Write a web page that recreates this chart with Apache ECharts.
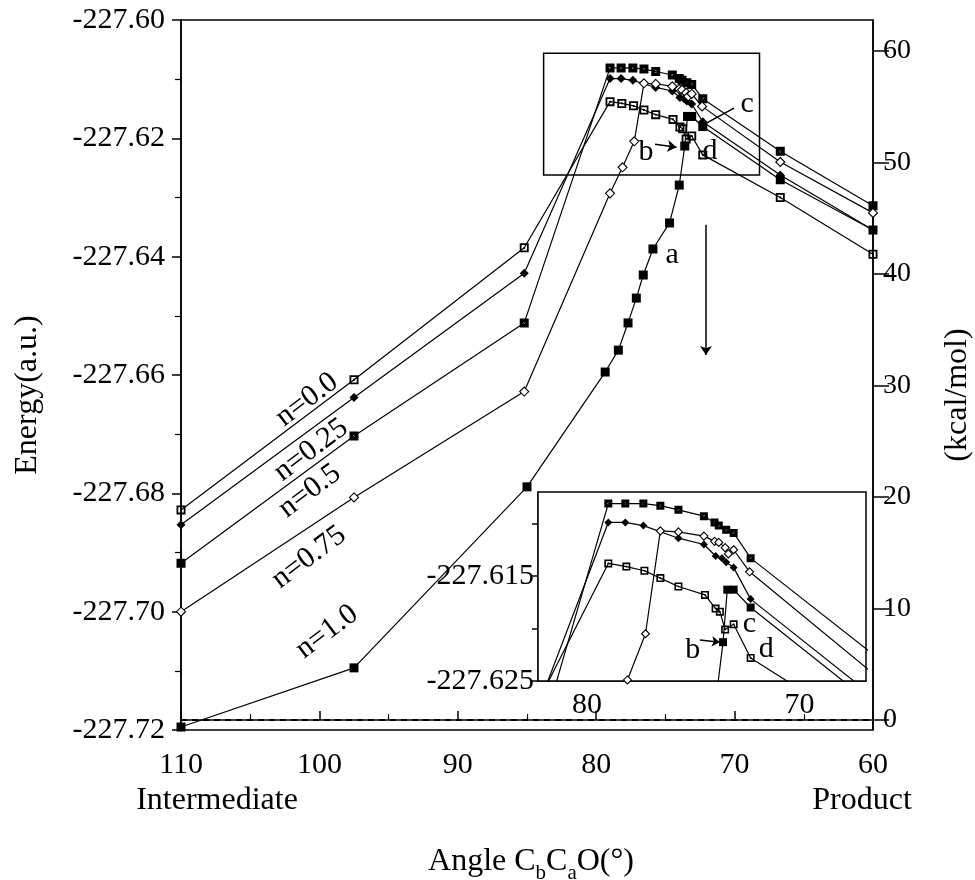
<!DOCTYPE html>
<html>
<head>
<meta charset="utf-8">
<script src="https://cdn.jsdelivr.net/npm/echarts@6/dist/echarts.min.js"></script>
<style>
  html, body { margin: 0; background: #fff; }
  #chart { width: 975px; height: 880px; }
</style>
</head>
<body>
<div id="chart"></div>
<script>
// [angle, energy(a.u.)]
var n00 = [[110, -227.6828], [97.5, -227.6608], [85.2, -227.6385], [79.0, -227.6138], [78.15, -227.6141],
  [77.3, -227.6145], [76.55, -227.6152], [75.7, -227.6160], [74.45, -227.6168], [73.95, -227.6181],
  [73.75, -227.6184], [73.5, -227.6201], [73.1, -227.6196], [72.3, -227.6228], [66.7, -227.6300], [60, -227.6396]];
var n025 = [[110, -227.6853], [97.5, -227.6638], [85.2, -227.6428], [79.0, -227.6099], [78.2, -227.6099],
  [77.35, -227.6102], [75.7, -227.6114], [74.5, -227.6120], [73.95, -227.6131], [73.65, -227.6133],
  [73.45, -227.6137], [73.1, -227.6142], [72.3, -227.6172], [66.7, -227.6262], [60, -227.6355]];
var n05 = [[110, -227.6918], [97.5, -227.6703], [85.2, -227.6512], [79.0, -227.6081], [78.2, -227.6081],
  [77.35, -227.6081], [76.55, -227.6083], [75.7, -227.6087], [74.5, -227.6093], [74.0, -227.6099],
  [73.8, -227.6102], [73.45, -227.6106], [73.1, -227.6109], [72.3, -227.6133], [66.7, -227.6222], [60, -227.6314]];
var n075 = [[110, -227.7000], [97.5, -227.6807], [85.2, -227.6628], [79.0, -227.6293], [78.1, -227.6249],
  [77.25, -227.6205], [76.55, -227.6107], [75.7, -227.6108], [74.5, -227.6112], [74.0, -227.6117],
  [73.8, -227.6118], [73.5, -227.6123], [73.35, -227.6129], [73.1, -227.6125], [72.35, -227.6146],
  [66.7, -227.6240], [60, -227.6326]];
var n10 = [[110, -227.7195], [97.5, -227.7095], [85.0, -227.6789], [79.35, -227.6595], [78.4, -227.6558],
  [77.7, -227.6512], [77.1, -227.6470], [76.6, -227.6431], [75.9, -227.6387], [74.7, -227.6343],
  [74.0, -227.6279], [73.6, -227.6213], [73.4, -227.6163], [73.1, -227.6163], [72.3, -227.6180],
  [66.7, -227.6270], [60, -227.6355]];

var angleTicks = [110, 100, 90, 80, 70, 60];
var kcalTicks = [0, 10, 20, 30, 40, 50, 60];
var zeroLine = [[110, 0], [60, 0]];
var insetAngleLabels = [80, 70];
var insetAngleTicks = [67, 68, 69, 70, 71, 72, 73, 74, 75, 76, 77, 78, 79, 80, 81, 82];
var insetEnergyLabels = [-227.625, -227.615];
var insetEnergyTicks = [-227.625, -227.620, -227.615, -227.610];

var FONT = 'Liberation Serif';
var symOpenSq = 'path://M0,0H10V10H0ZM2,2V8H8V2ZM4,4H6V6H4Z';
var symDarkSq = 'path://M0,0H10V10H0ZM4,4V6H6V4Z';

var curves = [
  { name: 'n=0.0', data: n00, symbol: symOpenSq, size: 9, fill: '#000', border: 0 },
  { name: 'n=0.25', data: n025, symbol: 'diamond', size: 9, fill: '#000', border: 0 },
  { name: 'n=0.5', data: n05, symbol: symDarkSq, size: 9, fill: '#000', border: 0 },
  { name: 'n=0.75', data: n075, symbol: 'diamond', size: 9, fill: '#fff', border: 1.1 },
  { name: 'n=1.0', data: n10, symbol: 'rect', size: 9, fill: '#000', border: 0 }
];

var txt = { color: '#000', fontFamily: FONT, fontSize: 30 };
var blackLine = { color: '#000', width: 1.5 };

function pt(x, y, text, rot) {
  return { coord: [x, y], name: text, label: { rotate: rot || 0 } };
}
function seg(x1, y1, x2, y2) {
  return [{ coord: [x1, y1] }, { coord: [x2, y2] }];
}

var series = [];
curves.forEach(function (c, i) {
  [0, 1].forEach(function (g) {
    series.push({
      name: c.name,
      type: 'line',
      xAxisIndex: g,
      yAxisIndex: g === 0 ? 0 : 2,
      data: c.data,
      symbol: c.symbol,
      symbolSize: g === 0 ? c.size : c.size - 1,
      symbolKeepAspect: true,
      showAllSymbol: true,
      lineStyle: { color: '#000', width: 1.2 },
      itemStyle: { color: c.fill, borderColor: '#000', borderWidth: c.border },
      z: 3
    });
  });
});

// zero reference line on the kcal/mol axis
series.push({
  type: 'line', xAxisIndex: 0, yAxisIndex: 1, data: zeroLine, symbol: 'none',
  lineStyle: { color: '#000', width: 2, type: [6, 5] }, z: 2
});

// annotations for the main plot
series.push({
  type: 'line', xAxisIndex: 0, yAxisIndex: 0, data: [], silent: true,
  markPoint: {
    symbol: 'circle', symbolSize: 1, itemStyle: { color: 'rgba(0,0,0,0)' },
    label: { show: true, position: 'inside', formatter: '{b}', color: '#000', fontFamily: FONT, fontSize: 30 },
    data: [
      pt(100.9, -227.6642, 'n=0.0', 37), pt(100.6, -227.6727, 'n=0.25', 37),
      pt(100.7, -227.6796, 'n=0.5', 37), pt(100.75, -227.6908, 'n=0.75', 37),
      pt(99.45, -227.7034, 'n=1.0', 37),
      pt(74.52, -227.6397, 'a'), pt(76.4, -227.6223, 'b'), pt(69.1, -227.6142, 'c'), pt(71.78, -227.6221, 'd')
    ]
  },
  markLine: {
    silent: true, symbol: ['none', 'arrow'], symbolSize: 9, label: { show: false },
    lineStyle: { color: '#000', width: 1.5, type: 'solid' },
    data: [
      seg(72.07, -227.6346, 72.07, -227.6566),
      seg(75.75, -227.6210, 74.2, -227.6215),
      [{ coord: [70.04, -227.6149], symbol: 'none' }, { coord: [72.57, -227.6181], symbol: 'none' }]
    ]
  },
  markArea: {
    silent: true, itemStyle: { color: 'rgba(0,0,0,0)', borderColor: '#000', borderWidth: 1.5 },
    data: [seg(83.8, -227.6056, 68.2, -227.6262)]
  }
});

// annotations for the inset
series.push({
  type: 'line', xAxisIndex: 1, yAxisIndex: 2, data: [], silent: true,
  markPoint: {
    symbol: 'circle', symbolSize: 1, itemStyle: { color: 'rgba(0,0,0,0)' },
    label: { show: true, position: 'inside', formatter: '{b}', color: '#000', fontFamily: FONT, fontSize: 30 },
    data: [pt(75.03, -227.6221, 'b'), pt(72.36, -227.6196, 'c'), pt(71.57, -227.6220, 'd')]
  },
  markLine: {
    silent: true, symbol: ['none', 'arrow'], symbolSize: 8, label: { show: false },
    lineStyle: { color: '#000', width: 1.5, type: 'solid' },
    data: [seg(74.69, -227.6211, 73.75, -227.6213)]
  }
});

var option = {
  animation: false,
  backgroundColor: '#fff',
  textStyle: { fontFamily: FONT, color: '#000' },
  grid: [
    { left: 181, right: 102, top: 20, bottom: 150, show: true, borderColor: '#000', borderWidth: 1.5 },
    { left: 538, right: 109, top: 492, bottom: 199, show: true, borderColor: '#000', borderWidth: 1.5,
      backgroundColor: '#fff', z: 2 }
  ],
  xAxis: [
    {
      type: 'value', gridIndex: 0, min: 60, max: 110, interval: 10, inverse: true,
      axisLine: { lineStyle: blackLine },
      axisTick: { inside: true, length: 9, lineStyle: blackLine, customValues: angleTicks },
      minorTick: { show: true, splitNumber: 2, length: 6, lineStyle: { color: '#000', width: 1.2 } },
      axisLabel: Object.assign({ margin: 20 }, txt),
      splitLine: { show: false }
    },
    {
      type: 'value', gridIndex: 1, min: 66.87, max: 82.31, inverse: true,
      axisLine: { lineStyle: blackLine },
      axisTick: { inside: true, length: 6, lineStyle: { color: '#000', width: 1.2 }, customValues: insetAngleTicks },
      axisLabel: Object.assign({ margin: 9, customValues: insetAngleLabels }, txt),
      splitLine: { show: false }
    }
  ],
  yAxis: [
    {
      type: 'value', gridIndex: 0, min: -227.72, max: -227.60, interval: 0.02,
      axisLine: { lineStyle: blackLine },
      axisTick: { inside: false, length: 9, lineStyle: blackLine },
      minorTick: { show: true, splitNumber: 2, length: 6, lineStyle: { color: '#000', width: 1.2 } },
      axisLabel: Object.assign({ margin: 16, formatter: function (v) { return v.toFixed(2); } }, txt),
      splitLine: { show: false }
    },
    {
      type: 'value', gridIndex: 0, position: 'right', min: -0.897, max: 62.78,
      axisLine: { show: true, lineStyle: blackLine },
      axisTick: { show: true, inside: false, length: 16, lineStyle: blackLine, customValues: kcalTicks },
      axisLabel: Object.assign({ margin: 10, customValues: kcalTicks }, txt, { fontSize: 28 }),
      splitLine: { show: false }
    },
    {
      type: 'value', gridIndex: 1, min: -227.625, max: -227.607,
      axisLine: { lineStyle: blackLine },
      axisTick: { inside: false, length: 6, lineStyle: blackLine, customValues: insetEnergyTicks },
      axisLabel: Object.assign({ margin: 4, customValues: insetEnergyLabels,
        formatter: function (v) { return v.toFixed(3); } }, txt),
      splitLine: { show: false }
    }
  ],
  graphic: [
    { type: 'text', x: 28, y: 395, rotation: Math.PI / 2,
      style: { text: 'Energy(a.u.)', font: '32px "Liberation Serif"', fill: '#000',
        textAlign: 'center', textVerticalAlign: 'middle', align: 'center', verticalAlign: 'middle' } },
    { type: 'text', x: 958, y: 395, rotation: Math.PI / 2,
      style: { text: '(kcal/mol)', font: '32px "Liberation Serif"', fill: '#000',
        textAlign: 'center', textVerticalAlign: 'middle', align: 'center', verticalAlign: 'middle' } },
    { type: 'text', x: 217, y: 801,
      style: { text: 'Intermediate', font: '32px "Liberation Serif"', fill: '#000',
        textAlign: 'center', textVerticalAlign: 'middle', align: 'center', verticalAlign: 'middle' } },
    { type: 'text', x: 862, y: 801,
      style: { text: 'Product', font: '32px "Liberation Serif"', fill: '#000',
        textAlign: 'center', textVerticalAlign: 'middle', align: 'center', verticalAlign: 'middle' } },
    { type: 'text', x: 531, y: 862,
      style: { text: 'Angle C{s|b}C{s|a}O(°)', font: '32px "Liberation Serif"', fill: '#000',
        textAlign: 'center', textVerticalAlign: 'middle', align: 'center', verticalAlign: 'middle',
        rich: { s: { fontSize: 21, fontFamily: FONT, lineHeight: 14, padding: [22, 0, 0, 0] } } } }
  ],
  series: series
};

var myChart = echarts.init(document.getElementById('chart'));
myChart.setOption(option);
</script>
</body>
</html>
